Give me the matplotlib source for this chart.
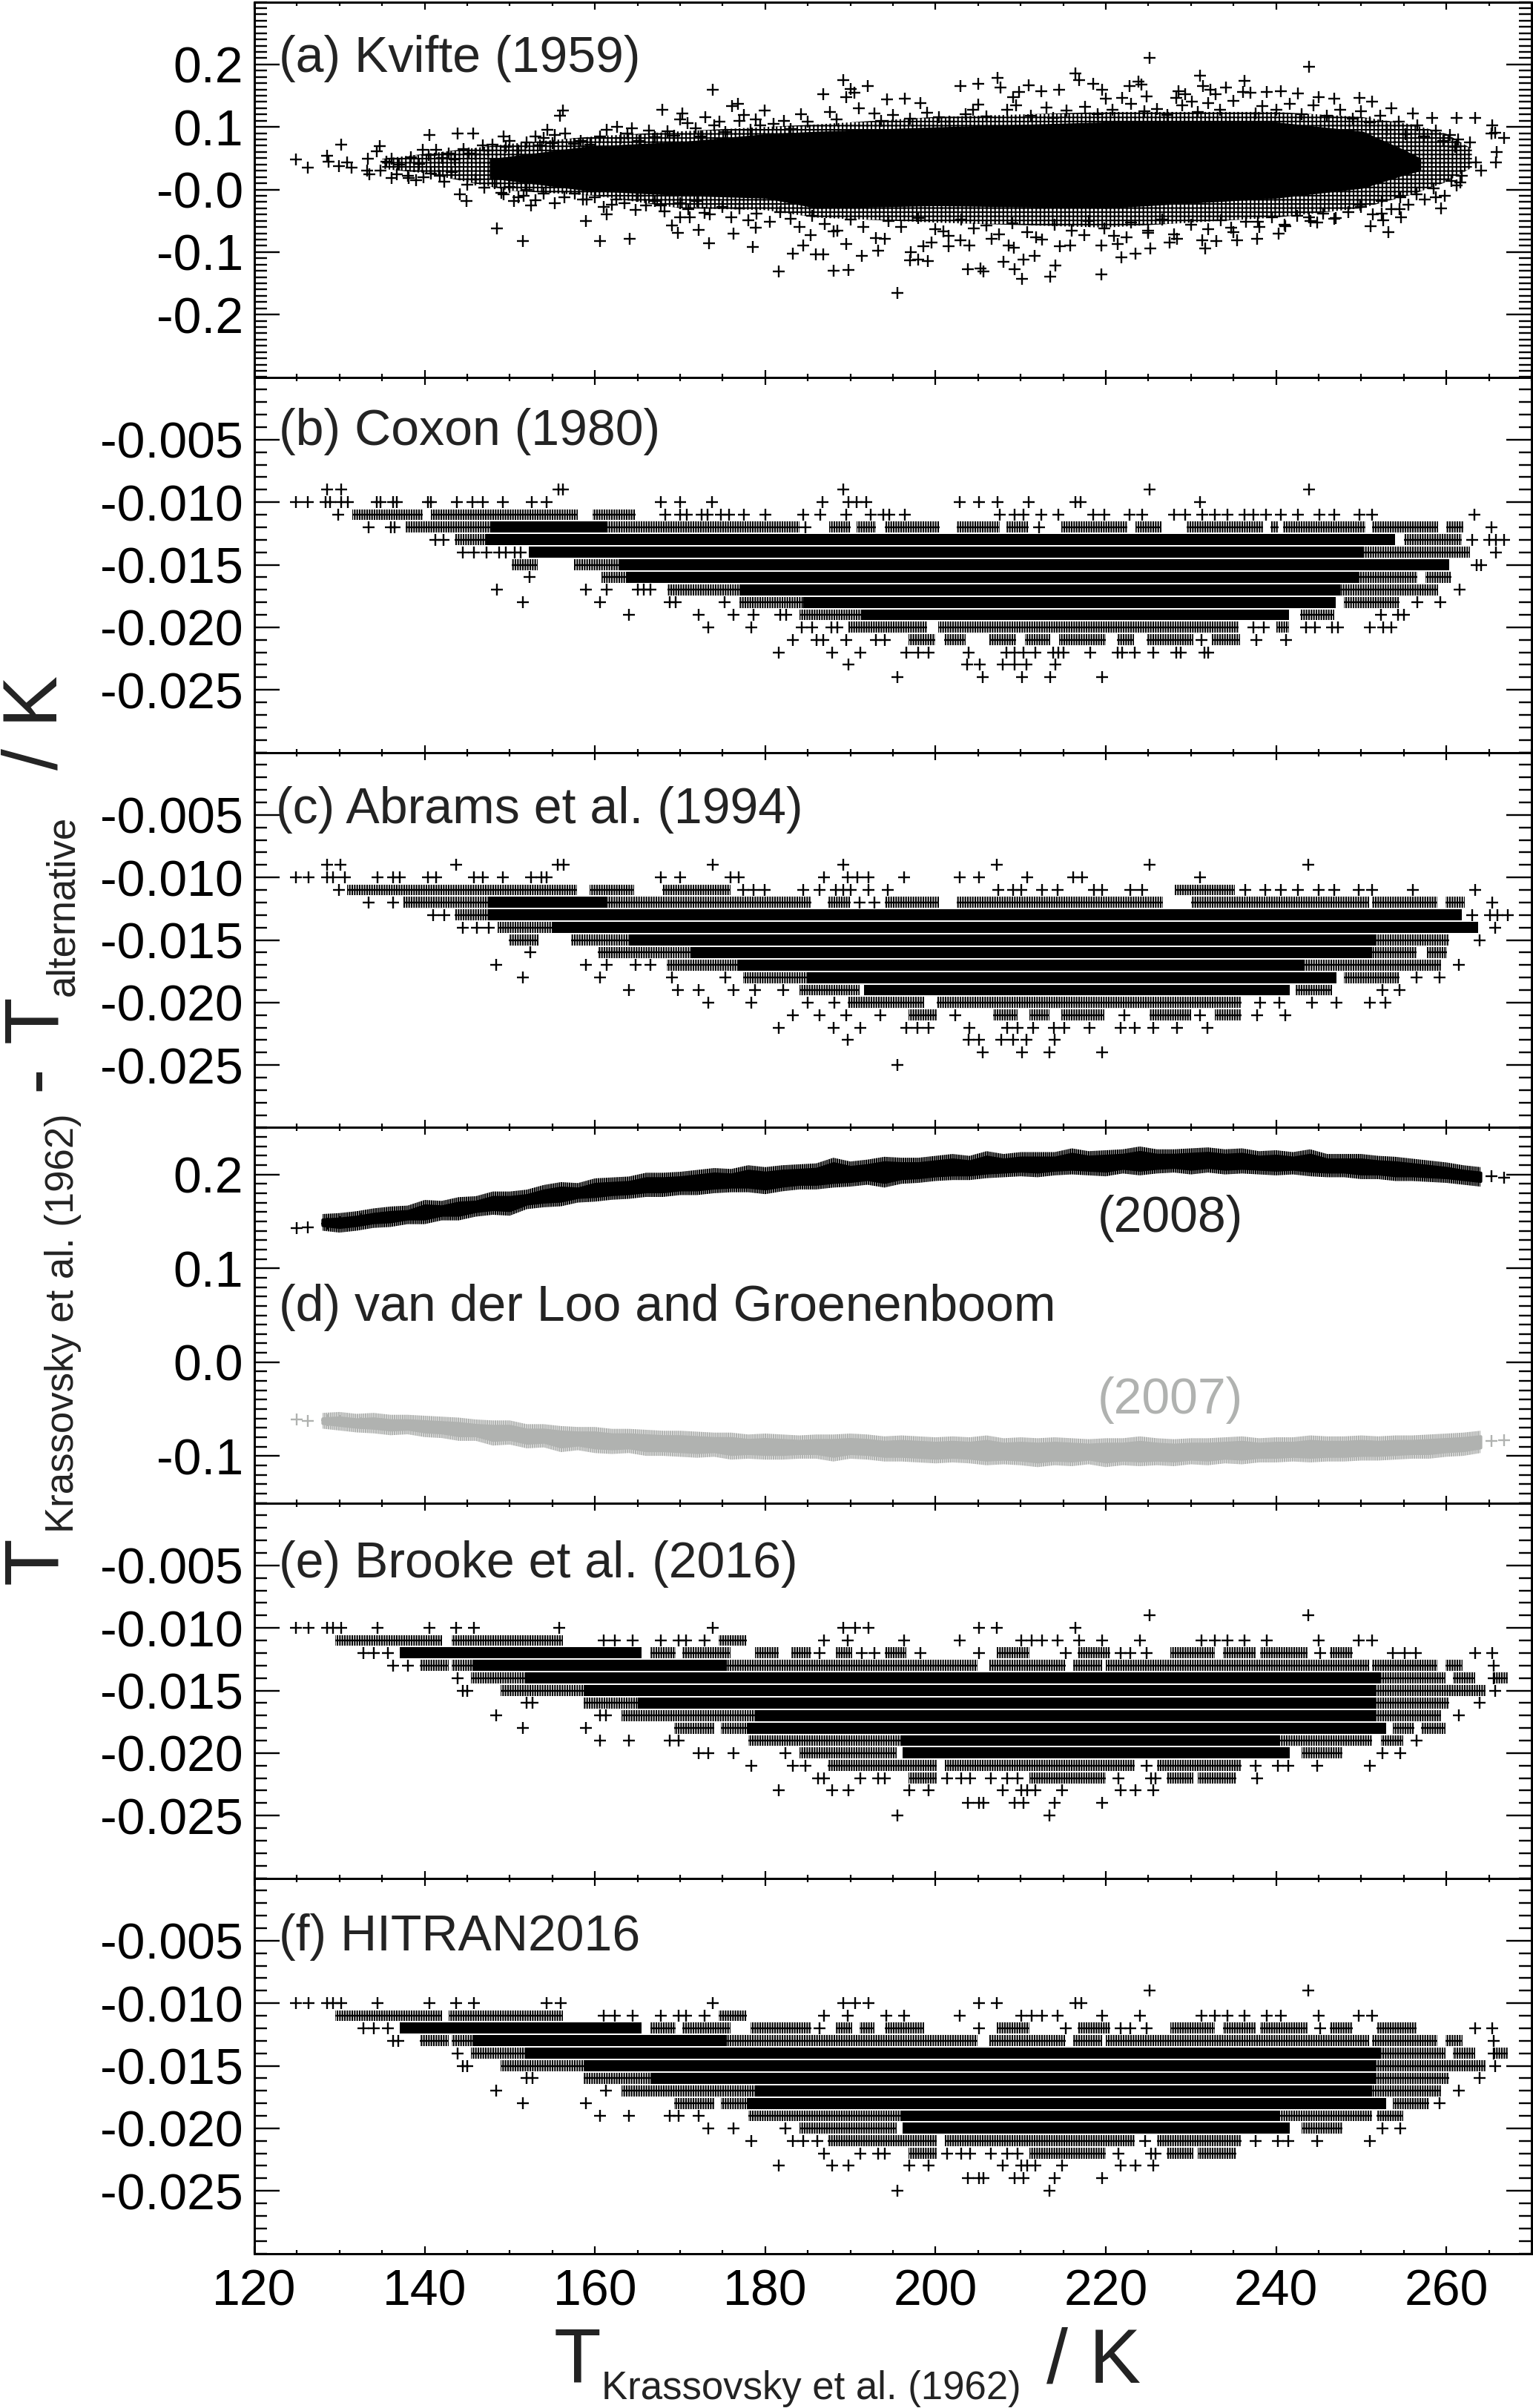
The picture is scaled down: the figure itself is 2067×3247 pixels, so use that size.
import matplotlib
matplotlib.use('Agg')
import matplotlib.pyplot as plt
from matplotlib.ticker import MultipleLocator, FixedLocator, FixedFormatter

plt.rcParams['font.family'] = ['Liberation Sans', 'DejaVu Sans']
plt.rcParams['hatch.linewidth'] = 1.5

W = 2067
H = 3247
DPI = 100

# panel (a): solid core of the cloud
a_core_T = [147.6, 159, 170.6, 180, 186, 200, 220, 240, 250.2, 254.8, 257]
a_core_hi = [0.049, 0.069, 0.077, 0.089, 0.093, 0.100, 0.108, 0.108, 0.093, 0.065, 0.050]
a_core_lo = [0.018, -0.002, -0.010, -0.014, -0.030, -0.026, -0.030, -0.014, 0.002, 0.022, 0.030]

# panel (a): where the markers crowd but do not yet merge
a_mid_up_T = [135, 140, 150, 160, 170, 180, 186, 200, 220, 240, 250, 256, 260, 263]
a_mid_up = [0.049, 0.057, 0.073, 0.085, 0.093, 0.100, 0.104, 0.116, 0.124, 0.124, 0.116, 0.104, 0.089, 0.065]
a_mid_dn = [0.033, 0.026, -0.002, -0.010, -0.030, -0.033, -0.045, -0.053, -0.061, -0.045, -0.030, -0.008, 0.012, 0.035]

# panel (a): outliers read one by one
a_T = [124.9, 126.3, 128.5, 128.7, 130.2, 129.9, 130.9, 131.4, 133.2, 133.5, 133.3, 134.7, 134.4, 134.8, 136.1, 136.7,
       136.1, 138.1, 139.8, 141.3, 140.6, 143.9, 145.7, 139.9, 141.8, 144.1, 144.9, 148.5, 151.5, 160.6, 164.1, 158.9,
       161.4, 149.3, 156.2, 155.9, 154.4, 155.3, 153, 150.5, 152.5, 151.6, 149.3, 167.9, 173.8, 176.1, 176.8, 177.5,
       178.9, 179.9, 170.3, 170, 170.9, 173, 174.6, 161.4, 162.6, 164.3, 169, 169.7, 172.2, 173.4, 176.3, 178.5, 178.9,
       170, 171.1, 172.9, 164.8, 167.7, 162, 159, 178,
       189.2, 190, 190.5, 192, 186.8, 189.5, 194.3, 196.4, 198.2, 202.9, 205, 207.3, 207.6, 205, 210.9, 209.8, 209.1,
       212.4, 214.5, 216.4, 216.9, 218.5, 219.6, 220, 221.9, 222.8, 223.8, 224.2, 224.8, 225.1, 228.3, 228.5, 229.3,
       230.1, 231.1, 231.4, 232.3, 232.9, 234.1, 236.3, 236.1, 237, 238.9, 240.6, 242.6, 243.9, 245, 246.8, 249.8,
       251.3, 253.5, 256.1, 258.3, 261.2, 263.4, 265.4, 265.7, 266.8, 265.3, 265.9, 265.8, 263.5, 264.1, 262.8, 261.6,
       259.4, 258.8,
       181.6, 188, 189.8, 195.5, 183.2, 185.9, 186.8, 191.3, 189.5, 184.5, 185.3, 188, 194, 193.3, 197, 198, 199.1,
       197.1, 198.6, 199.5, 201.5, 204, 203.8, 205.3, 205.6, 208, 209.3, 210.2, 213.5, 214.1, 210.3, 211.6, 208.6,
       209.2, 214.6, 219.5, 221.8, 223.5, 225.2, 219.5, 215.8, 221.4, 222.4, 227.5, 228.4, 231.7, 233, 235.4, 237.8,
       240.3, 241.1, 244.8, 246.8, 251.1, 252.6, 253.2, 254.7, 252.4, 254.5, 249.9, 243.9, 237.9, 234.7, 231.3, 225,
       217.5, 211.8, 206.6, 202.9, 200.9]
a_v = [0.048, 0.035, 0.054, 0.045, 0.072, 0.037, 0.043, 0.035, 0.030, 0.024, 0.049, 0.069, 0.061, 0.030, 0.018, 0.024,
       0.049, 0.018, 0.063, 0.063, 0.087, 0.089, 0.089, 0.019, 0.022, -0.008, -0.018, -0.062, -0.082, -0.082, -0.079,
       -0.050, -0.040, 0.085, 0.126, 0.118, 0.096, 0.087, 0.085, -0.018, -0.026, -0.010, -0.008, 0.128, 0.159, 0.133,
       0.137, 0.119, 0.112, 0.126, 0.121, 0.112, 0.106, 0.116, 0.108, 0.096, 0.100, 0.098, -0.057, -0.069, -0.065,
       -0.086, -0.070, -0.092, -0.061, -0.045, -0.045, -0.037, -0.033, -0.026, -0.024, -0.016, -0.049,
       0.175, 0.161, 0.155, 0.165, 0.152, 0.148, 0.144, 0.145, 0.138, 0.165, 0.169, 0.179, 0.163, 0.136, 0.167, 0.156,
       0.148, 0.157, 0.159, 0.186, 0.175, 0.169, 0.159, 0.145, 0.146, 0.165, 0.173, 0.168, 0.149, 0.211, 0.146, 0.157,
       0.152, 0.141, 0.182, 0.165, 0.159, 0.152, 0.163, 0.174, 0.156, 0.155, 0.156, 0.157, 0.153, 0.196, 0.148, 0.145,
       0.146, 0.141, 0.130, 0.122, 0.115, 0.114, 0.115, 0.102, 0.091, 0.083, 0.089, 0.060, 0.043, 0.043, 0.030, 0.075,
       0.011, -0.030, -0.012,
       -0.131, -0.130, -0.129, -0.165, -0.103, -0.104, -0.104, -0.106, -0.087, -0.089, -0.073, -0.067, -0.079, -0.098,
       -0.113, -0.112, -0.115, -0.100, -0.091, -0.085, -0.091, -0.089, -0.127, -0.126, -0.131, -0.116, -0.128, -0.143,
       -0.139, -0.122, -0.112, -0.106, -0.089, -0.093, -0.091, -0.136, -0.108, -0.102, -0.094, -0.089, -0.089, -0.087,
       -0.077, -0.085, -0.079, -0.094, -0.083, -0.081, -0.079, -0.071, -0.059, -0.053, -0.047, -0.059, -0.049, -0.068,
       -0.044, -0.039, -0.031, -0.024, -0.045, -0.051, -0.061, -0.081, -0.069, -0.073, -0.077, -0.079, -0.081, -0.067]

# panel (a): crowded fringe around the core, estimated
a_fringe_T = [135.5, 137, 138.4, 139.3, 140.5, 142, 142.8, 143.5, 144.6, 145.2, 146, 146.8, 147.4, 148, 149.5, 150, 151,
              152, 153.5, 154, 155, 156.5, 157.5, 158.3, 159.5, 160.6, 163, 163.8, 165.2, 166.3, 167, 168.5, 169.3,
              171.8, 172.4, 174, 175.3, 177, 178.3, 179.4, 181, 182.2, 183, 184.2, 185, 187.6, 188.4, 191, 192.8,
              193.6, 195, 197, 199, 200.4, 201.6, 203.5, 204.4, 206, 208.4, 209.5, 211.2, 213, 213.8, 215.4, 217.6,
              219, 220.8, 223, 224.5, 226, 227.2, 229, 230.8, 232, 233.4, 235, 237.6, 238.4, 240, 241.6, 243, 244.4,
              246, 247.5, 249, 250, 251, 252.2, 253, 254.4, 255.2, 256.6, 257.4, 258.8, 259.6, 260.4, 261, 261.4,
              138, 139, 140.7, 142.3, 143.2, 145, 146, 147, 148.2, 149, 150, 151, 152, 153, 154, 155.3, 156.4, 157.6,
              158.6, 160, 161, 162.5, 163.5, 165, 166, 167, 168.2, 170, 171, 172, 173.5, 175, 176, 177, 179, 180.5,
              181.8, 183, 184, 185.5, 187, 188.5, 190, 191.5, 193, 194.5, 196, 198, 200, 201.5, 203, 204.5, 206, 207.5,
              209, 210.8, 212.5, 214, 216, 218, 219.8, 221, 223, 225, 226.6, 228, 230, 232, 233.5, 235, 236.5, 238, 239.5,
              241, 242.5, 244, 245.5, 247, 248.5, 250, 251.4, 252.4, 253.5, 254.6, 255.5, 256.5, 257.5, 258.5, 259.8, 260.6,
              261.2, 261.8]
a_fringe_v = [0.045, 0.040, 0.052, 0.041, 0.055, 0.050, 0.058, 0.048, 0.065, 0.058, 0.056, 0.070, 0.062, 0.072, 0.068,
              0.078, 0.062, 0.075, 0.070, 0.082, 0.074, 0.090, 0.073, 0.078, 0.072, 0.085, 0.083, 0.090, 0.078, 0.094,
              0.084, 0.093, 0.086, 0.098, 0.085, 0.103, 0.092, 0.110, 0.095, 0.103, 0.105, 0.110, 0.097, 0.120, 0.108,
              0.124, 0.112, 0.130, 0.122, 0.110, 0.119, 0.113, 0.123, 0.116, 0.108, 0.120, 0.128, 0.117, 0.127, 0.135,
              0.118, 0.131, 0.114, 0.126, 0.132, 0.120, 0.127, 0.137, 0.125, 0.129, 0.119, 0.134, 0.124, 0.138, 0.127,
              0.142, 0.122, 0.133, 0.128, 0.137, 0.120, 0.134, 0.118, 0.127, 0.113, 0.125, 0.107, 0.118, 0.095, 0.108,
              0.088, 0.102, 0.085, 0.094, 0.078, 0.087, 0.068, 0.080,
              0.022, 0.015, 0.026, 0.012, 0.028, 0.008, 0.016, 0.003, 0.010, -0.005, 0.004, -0.012, 0.000, -0.017,
              -0.006, -0.022, -0.012, -0.006, -0.016, -0.012, -0.028, -0.016, -0.022, -0.010, -0.025, -0.018, -0.035,
              -0.022, -0.032, -0.018, -0.040, -0.028, -0.045, -0.030, -0.038, -0.052, -0.036, -0.047, -0.060, -0.042,
              -0.055, -0.066, -0.048, -0.060, -0.078, -0.050, -0.060, -0.046, -0.064, -0.074, -0.048, -0.062, -0.058,
              -0.072, -0.054, -0.068, -0.080, -0.056, -0.066, -0.050, -0.062, -0.074, -0.053, -0.066, -0.048, -0.072,
              -0.056, -0.063, -0.049, -0.068, -0.052, -0.060, -0.044, -0.056, -0.042, -0.050, -0.038, -0.046, -0.036,
              -0.028, -0.040, -0.018, -0.032, -0.012, -0.024, -0.008, -0.016, 0.002, -0.010, 0.014, 0.006, 0.022]

# panel (d): band edges, 2008 in black, 2007 in grey
d_T = [128, 130, 132, 134, 136, 138, 140, 142, 144, 146, 148, 150, 152, 154, 156, 158, 160, 162, 164, 166, 168, 170,
       172, 174, 176, 178, 180, 182, 184, 186, 188, 190, 192, 194, 196, 198, 200, 202, 204, 206, 208, 210, 212, 214,
       216, 218, 220, 222, 224, 226, 228, 230, 232, 234, 236, 238, 240, 242, 244, 246, 248, 250, 252, 254, 256, 258,
       260, 262, 264]
d_black_hi = [0.152, 0.153, 0.155, 0.158, 0.160, 0.161, 0.167, 0.166, 0.170, 0.171, 0.176, 0.176, 0.178, 0.183, 0.186,
              0.185, 0.190, 0.191, 0.192, 0.196, 0.196, 0.197, 0.199, 0.201, 0.200, 0.204, 0.202, 0.204, 0.205, 0.206,
              0.212, 0.208, 0.210, 0.213, 0.212, 0.212, 0.214, 0.216, 0.214, 0.219, 0.216, 0.218, 0.218, 0.218, 0.222,
              0.219, 0.220, 0.221, 0.224, 0.221, 0.221, 0.222, 0.223, 0.221, 0.222, 0.219, 0.220, 0.218, 0.221, 0.216,
              0.216, 0.216, 0.214, 0.213, 0.211, 0.209, 0.207, 0.204, 0.202]
d_black_lo = [0.146, 0.144, 0.146, 0.149, 0.150, 0.153, 0.153, 0.157, 0.157, 0.161, 0.163, 0.162, 0.169, 0.171, 0.172,
              0.176, 0.177, 0.179, 0.180, 0.182, 0.182, 0.184, 0.184, 0.186, 0.187, 0.187, 0.185, 0.188, 0.190, 0.190,
              0.192, 0.193, 0.195, 0.192, 0.196, 0.197, 0.199, 0.200, 0.200, 0.202, 0.203, 0.204, 0.203, 0.205, 0.206,
              0.205, 0.204, 0.207, 0.205, 0.207, 0.208, 0.206, 0.208, 0.206, 0.207, 0.206, 0.205, 0.206, 0.204, 0.203,
              0.203, 0.201, 0.201, 0.199, 0.199, 0.198, 0.197, 0.195, 0.193]
d_grey_hi = [-0.060, -0.059, -0.061, -0.060, -0.062, -0.062, -0.063, -0.064, -0.065, -0.067, -0.068, -0.068, -0.072,
             -0.072, -0.074, -0.075, -0.075, -0.077, -0.077, -0.078, -0.079, -0.079, -0.080, -0.081, -0.081, -0.083,
             -0.082, -0.083, -0.084, -0.083, -0.083, -0.082, -0.083, -0.085, -0.084, -0.085, -0.086, -0.085, -0.086,
             -0.084, -0.087, -0.086, -0.087, -0.086, -0.087, -0.088, -0.087, -0.087, -0.085, -0.087, -0.088, -0.087,
             -0.087, -0.086, -0.085, -0.087, -0.086, -0.086, -0.084, -0.085, -0.085, -0.084, -0.085, -0.084, -0.084,
             -0.083, -0.082, -0.081, -0.079]
d_grey_lo = [-0.065, -0.067, -0.069, -0.070, -0.072, -0.071, -0.074, -0.075, -0.078, -0.078, -0.083, -0.082, -0.086,
             -0.085, -0.090, -0.088, -0.091, -0.092, -0.091, -0.094, -0.094, -0.095, -0.096, -0.095, -0.098, -0.097,
             -0.098, -0.098, -0.097, -0.097, -0.100, -0.097, -0.098, -0.100, -0.100, -0.101, -0.102, -0.101, -0.102,
             -0.104, -0.103, -0.104, -0.106, -0.104, -0.105, -0.103, -0.106, -0.104, -0.105, -0.104, -0.105, -0.103,
             -0.104, -0.102, -0.103, -0.101, -0.101, -0.100, -0.101, -0.100, -0.100, -0.099, -0.099, -0.098, -0.097,
             -0.097, -0.095, -0.094, -0.091]
d_black_T_ends = [125, 126.3, 128.5, 130, 132.5, 135, 265.3, 266.8]
d_black_ends = [0.143, 0.144, 0.148, 0.149, 0.152, 0.154, 0.198, 0.197]
d_grey_T_ends = [125, 126.3, 128.5, 130, 132.5, 135, 265.3, 266.8]
d_grey_ends = [-0.061, -0.0625, -0.062, -0.0625, -0.065, -0.066, -0.084, -0.083]

# panels (b), (c), (e), (f): the values sit on 0.001 K levels
# solid = fully black runs, dense / semi = runs of closely packed markers, pts = single markers
b_solid = [(-0.012, 147.75, 161.5), (-0.013, 147.25, 177.5), (-0.014, 155.25, 250.3), (-0.015, 162.75, 251.55),
           (-0.016, 171, 249.8), (-0.017, 177, 243.3), (-0.018, 184.5, 247)]
b_dense = [(-0.013, 177.5, 254), (-0.016, 163.75, 171), (-0.017, 243.3, 247.5), (-0.019, 191.25, 241.55),
           (-0.014, 152.25, 155.25), (-0.015, 251.55, 260.3)]
b_semi = [(-0.011, 131.5, 139.75), (-0.011, 140.75, 158), (-0.011, 159.75, 164.75),
          (-0.012, 137.75, 147.75), (-0.012, 161.5, 184), (-0.012, 187.5, 190), (-0.012, 190.75, 193), (-0.012, 194, 200.5),
          (-0.012, 202.5, 207.5), (-0.012, 208.3, 210.9), (-0.012, 214.8, 222.5), (-0.012, 223.5, 226.5),
          (-0.012, 229.5, 238.5), (-0.012, 239.3, 240.3), (-0.012, 240.8, 250.5), (-0.012, 251.3, 259), (-0.012, 260, 262),
          (-0.013, 143.5, 147.25), (-0.013, 255, 261.8), (-0.014, 250.3, 262.8), (-0.015, 150.25, 153.25),
          (-0.015, 157.5, 162.75), (-0.016, 160.75, 163.75), (-0.016, 249.8, 256.55), (-0.016, 257.55, 260.55),
          (-0.017, 168.5, 177), (-0.017, 247.5, 259), (-0.018, 177, 184.5), (-0.018, 248, 254.5),
          (-0.019, 184, 191.25), (-0.019, 242.8, 246.8), (-0.020, 189.75, 199), (-0.020, 200.3, 235.55),
          (-0.020, 240, 241.55), (-0.021, 196.8, 200), (-0.021, 201, 203.5), (-0.021, 206.3, 209.5), (-0.021, 210.5, 213.5),
          (-0.021, 214.5, 220), (-0.021, 221.3, 223.3), (-0.021, 224.8, 230.3), (-0.021, 232.5, 235.8)]
b_pts = {-0.009: [128.55, 130.2, 155.75, 156.25, 189.15, 225.15, 243.9],
         -0.010: [124.85, 126.25, 128.4, 128.85, 130.15, 131, 134.35, 134.85, 136.25, 136.75, 140.35, 140.75, 143.75, 145.65,
                  146.85, 149.15, 152.6, 154.35, 167.75, 170, 173.75, 186.75, 189.75, 190.75, 191.9, 202.8, 205.1,
                  207.3, 210.9, 216.4, 217.05, 231.05],
         -0.011: [129.85, 168.25, 170, 170.75, 172.5, 173.25, 174.75, 175.75, 177.5, 180, 184.5, 186.5, 189.5, 192.4, 193.9,
                  194.55, 196.4, 207.55, 209.3, 210.3, 212.45, 214.45, 218.55, 219.8, 222.8, 224.3, 228.05, 229.3, 231.3,
                  232.8, 234.3, 236.3, 237.3, 238.8, 240.55, 242.55, 245.05, 246.8, 249.8, 251.3, 263.3],
         -0.012: [133.4, 136, 136.5, 184.75, 212.2, 265.3],
         -0.013: [141.25, 142.25, 263, 265, 265.8, 266.8],
         -0.014: [144.5, 145.75, 147.25, 148.75, 149.5, 150.6, 151.25, 265.8],
         -0.015: [263.55, 264.05],
         -0.016: [152.35],
         -0.017: [148.5, 158.9, 161.4, 165, 165.75, 166.5, 261.55],
         -0.018: [151.5, 160.6, 168.75, 169.5, 175.25, 256.55, 259.3],
         -0.019: [164, 172.15, 176.25, 178.6, 181.75, 182.5, 252.3, 254.3, 255.05],
         -0.020: [173.35, 178.4, 184.25, 185.5, 187.75, 188.5, 237.3, 238.55, 243.55, 244.55, 246.55, 247.3, 251.05,
                  252.55, 253.55],
         -0.021: [183.25, 186, 186.85, 189.5, 193, 194, 231.2, 237.7, 241.15],
         -0.022: [181.6, 187.9, 191.15, 196.55, 198, 199.2, 203.9, 208.3, 209.3, 210.3, 211.7, 213.8, 214.45, 215.05, 218.15,
                  221.4, 221.9, 223.4, 225.55, 228.3, 228.8, 231.55, 232.05],
         -0.023: [189.75, 203.7, 205.2, 207.9, 209.3, 210.7, 214.05],
         -0.024: [195.55, 205.55, 210.2, 213.45, 219.6]}

c_solid = [(-0.012, 147.5, 161.4), (-0.013, 147.5, 177.8), (-0.014, 155.1, 250.4), (-0.015, 164.1, 251.8),
           (-0.016, 171.2, 251.3), (-0.017, 190.2, 243.3), (-0.018, 215.3, 222.9)]
c_dense = [(-0.013, 177.8, 261.8), (-0.017, 176.9, 190.2), (-0.018, 185, 215.3), (-0.018, 222.9, 247.1),
           (-0.019, 191.6, 241.6), (-0.014, 250.4, 263.7)]
c_semi = [(-0.011, 130.9, 157.9), (-0.011, 159.4, 164.6), (-0.011, 167.9, 175.9), (-0.011, 228.1, 235.2),
          (-0.012, 137.5, 147.5), (-0.012, 161.4, 185.4), (-0.012, 187.3, 190), (-0.012, 194, 200.4), (-0.012, 202.5, 226.7),
          (-0.012, 230, 250.9), (-0.012, 251.3, 258.9), (-0.012, 259.9, 262.2), (-0.013, 143.5, 147.5),
          (-0.014, 148.6, 155.1), (-0.015, 149.9, 153.4), (-0.015, 157.2, 164.1), (-0.015, 251.8, 260.3),
          (-0.016, 160.3, 171.2), (-0.016, 251.3, 256.5), (-0.016, 257.7, 260.1), (-0.017, 168.4, 176.9),
          (-0.017, 243.3, 259.4), (-0.018, 177.4, 185), (-0.018, 248, 254.5), (-0.019, 184, 191.1), (-0.019, 242.3, 246.6),
          (-0.020, 189.7, 198.7), (-0.020, 200.1, 235.9), (-0.021, 196.8, 200.1), (-0.021, 206.8, 209.6), (-0.021, 211, 213.4),
          (-0.021, 214.8, 219.8), (-0.021, 225.1, 230), (-0.021, 232.8, 235.9)]
c_pts = {-0.009: [128.5, 130.1, 143.7, 155.6, 156.3, 173.8, 189.2, 207.2, 225.1, 243.8],
         -0.010: [124.9, 126.4, 128.5, 129.2, 130.6, 134.5, 136.3, 137.1, 140.4, 141.3, 145.8, 146.8, 149.2, 152.5, 153.7,
                  154.3, 167.7, 170, 175.9, 176.9, 186.9, 189.7, 190.8, 192.1, 196.3, 202.8, 205.1, 210.8, 216.2, 217.2, 231.1],
         -0.011: [129.9, 177.4, 178.6, 179.9, 184.5, 186.4, 188.3, 189.2, 190, 192.1, 194.4, 207.4, 209.1, 210.1, 212.5, 214.3,
                  218.6, 219.6, 222.9, 224.3, 236.4, 238.7, 240.6, 242.6, 245, 246.8, 249.7, 251.3, 256.1, 263.4],
         -0.012: [133.4, 136.3, 191.1, 192.8, 265.4],
         -0.013: [141, 142.3, 263, 265.1, 266, 267.2],
         -0.014: [144.5, 146.1, 147.5, 265.7],
         -0.015: [263.9],
         -0.016: [152.4],
         -0.017: [148.4, 158.9, 161.4, 164.8, 166.5, 261.5],
         -0.018: [151.5, 160.6, 169, 175.3, 256.5, 259.2],
         -0.019: [164, 169.7, 172.2, 176.3, 178.8, 182.1, 252.5, 254.5],
         -0.020: [173.3, 178.4, 185, 188.1, 238.1, 240.4, 244.2, 247.1, 251, 252.8],
         -0.021: [183.2, 186.4, 189.5, 193.5, 202.3, 222.2, 231.1, 237.8, 241.1],
         -0.022: [181.6, 188, 191.2, 196.6, 197.9, 199.2, 204, 208.4, 209.6, 211.5, 213.9, 215.1, 218.1, 221.7, 223.4,
                  225.6, 228.4, 231.9],
         -0.023: [189.7, 203.9, 205.1, 207.7, 209.1, 210.7, 214],
         -0.024: [205.5, 210.2, 213.4, 219.6],
         -0.025: [195.5]}

e_solid = [(-0.013, 145.6, 175.5), (-0.014, 151.8, 191.1), (-0.015, 158.7, 251.8), (-0.016, 165, 251.6),
           (-0.017, 186.9, 251.6), (-0.018, 198.2, 241.4)]
e_dense = [(-0.014, 191.1, 252.3), (-0.017, 178.8, 186.9), (-0.018, 177.8, 198.2), (-0.018, 241.4, 252.9),
           (-0.019, 195.9, 240.4), (-0.020, 196.1, 241.6), (-0.012, 137.1, 165.5)]
e_semi = [(-0.011, 129.5, 142), (-0.011, 143.2, 156.2), (-0.011, 174.5, 177.8), (-0.012, 166.5, 169.5), (-0.012, 170.3, 175.9),
          (-0.012, 178.8, 181.6), (-0.012, 183.1, 185.4), (-0.012, 188.3, 190.2), (-0.012, 194, 196.6), (-0.012, 207.2, 211),
          (-0.012, 216.7, 220.5), (-0.012, 227.6, 232.8), (-0.012, 233.8, 237.6), (-0.012, 238.1, 243.7), (-0.012, 246.3, 249),
          (-0.013, 139.4, 142.8), (-0.013, 143.2, 145.6), (-0.013, 175.5, 204.9), (-0.013, 206.3, 215.3), (-0.013, 216.2, 219.6),
          (-0.013, 220, 250.9), (-0.013, 251.3, 258.9), (-0.013, 259.9, 261.9), (-0.014, 145.4, 151.8), (-0.014, 252.3, 259.9),
          (-0.014, 260.8, 263.4), (-0.014, 265.6, 267.2), (-0.015, 148.9, 158.7), (-0.015, 251.8, 264.6), (-0.016, 158.7, 165),
          (-0.016, 251.6, 260.3), (-0.017, 163.1, 178.8), (-0.017, 251.6, 259.4), (-0.018, 169.3, 174), (-0.018, 174.8, 177.8),
          (-0.018, 253.7, 256.2), (-0.018, 257, 259.9), (-0.019, 178, 195.9), (-0.019, 240.4, 251.3), (-0.019, 252.3, 254.9),
          (-0.020, 184, 195.4), (-0.020, 243, 247.8), (-0.021, 187.3, 200.1), (-0.021, 201.1, 223.4), (-0.021, 226, 235.9),
          (-0.022, 196.8, 200.1), (-0.022, 211, 220), (-0.022, 227.1, 230.3), (-0.022, 230.8, 235.3)]
e_pts = {-0.009: [225.1, 243.8],
         -0.010: [124.9, 126.4, 128.5, 129.2, 130.2, 134.5, 140.6, 143.7, 145.8, 155.8, 173.8, 189.2, 190.6, 192.1, 205.1,
                  207.2, 216.4],
         -0.011: [161, 162.3, 164.4, 167.7, 169.8, 170.7, 172.9, 186.9, 189.7, 196.3, 202.8, 210.1, 211.3, 212.5, 214.3, 216.9,
                  219.6, 224, 231.2, 232.8, 234.3, 236.3, 238.9, 245, 249.7, 251.3],
         -0.012: [132.8, 134, 135.7, 186.4, 191.3, 192.8, 198.2, 205.1, 215.3, 221.7, 222.9, 224.8, 245.2, 253.7, 255.1, 256.4,
                  263.4, 265.4],
         -0.013: [136.3, 138, 265.6],
         -0.014: [143.9, 265.6],
         -0.015: [144.5, 145, 265.7],
         -0.016: [152, 152.7, 263.9],
         -0.017: [148.4, 160.6, 161.3, 261.5],
         -0.018: [151.5, 158.9],
         -0.019: [160.6, 164, 168.8, 169.8, 256.5],
         -0.020: [172.2, 173.3, 176.3, 182.4, 252.5, 254.6],
         -0.021: [178.4, 183.2, 184.7, 224.8, 237.6, 240.2, 241.4, 244.8, 251],
         -0.022: [186.2, 186.9, 191.2, 193.3, 194, 201.4, 203, 204.1, 206.5, 208.4, 209.6, 221.5, 225.3, 225.8, 237.8],
         -0.023: [181.6, 187.9, 189.8, 196.9, 199.2, 207.9, 210.1, 210.8, 211.7, 214.9, 221.7, 223.5, 225.6],
         -0.024: [203.8, 205.1, 205.6, 209.3, 210.3, 214, 219.6],
         -0.025: [195.5, 213.4]}

f_solid = [(-0.013, 145.6, 175.5), (-0.014, 151.8, 193.5), (-0.015, 158.7, 251.8), (-0.016, 166.5, 251.6),
           (-0.017, 186.9, 251.3), (-0.018, 198.2, 236.2)]
f_dense = [(-0.014, 193.5, 252.3), (-0.017, 178.8, 186.9), (-0.018, 177.8, 198.2), (-0.018, 236.2, 252.9),
           (-0.019, 195.9, 240.4), (-0.020, 196.1, 241.6), (-0.012, 137.1, 165.5)]
f_semi = [(-0.011, 129.5, 142), (-0.011, 142.8, 156.2), (-0.011, 174.5, 177.8), (-0.012, 166.5, 169.5), (-0.012, 170.3, 175.9),
          (-0.012, 178.3, 185.4), (-0.012, 188.3, 190.2), (-0.012, 191.1, 192.8), (-0.012, 194, 198.7), (-0.012, 207.2, 211),
          (-0.012, 216.7, 220.5), (-0.012, 227.6, 232.8), (-0.012, 233.8, 237.6), (-0.012, 238.1, 243.7), (-0.012, 246.3, 249),
          (-0.012, 251.8, 256.5), (-0.013, 139.4, 142.8), (-0.013, 143.2, 145.6), (-0.013, 175.5, 204.9), (-0.013, 206.3, 215.3),
          (-0.013, 216.2, 219.6), (-0.013, 220, 250.9), (-0.013, 251.3, 258.9), (-0.013, 259.9, 261.9), (-0.014, 145.4, 151.8),
          (-0.014, 252.3, 259.9), (-0.014, 260.8, 263.4), (-0.014, 265.6, 267.2), (-0.015, 148.9, 158.7), (-0.015, 251.8, 264.6),
          (-0.016, 158.7, 166.5), (-0.016, 251.6, 260.3), (-0.017, 163.1, 178.8), (-0.017, 251.3, 259.4), (-0.018, 169.3, 174),
          (-0.018, 174.8, 177.8), (-0.018, 253.7, 258), (-0.019, 178, 195.9), (-0.019, 240.4, 251.3), (-0.019, 251.8, 254.9),
          (-0.020, 184, 195.4), (-0.020, 243, 247.8), (-0.021, 187.3, 200.1), (-0.021, 201.1, 223.4), (-0.021, 226, 235.9),
          (-0.022, 196.8, 200.1), (-0.022, 211, 220), (-0.022, 227.1, 230.3), (-0.022, 230.8, 235.3)]
f_pts = {-0.009: [225.1, 243.8],
         -0.010: [124.9, 126.4, 128.5, 129.2, 130.2, 134.5, 140.6, 143.7, 145.8, 154.3, 156, 173.8, 189.2, 190.6, 192.1, 205.1,
                  207.2, 216.4, 217.1],
         -0.011: [161, 162.3, 164.4, 167.7, 169.8, 170.7, 172.9, 186.9, 189.7, 194.2, 196.3, 202.8, 210.1, 211.3, 212.5, 214.3,
                  219.6, 224, 231.2, 232.8, 234.3, 236.3, 238.9, 240.6, 245, 249.7, 251.3],
         -0.012: [132.8, 134, 135.7, 186.4, 205.1, 215.3, 221.7, 222.9, 224.8, 245.2, 263.4, 265.4],
         -0.013: [136.3, 136.9, 265.6],
         -0.014: [143.9, 265.6],
         -0.015: [144.5, 145, 265.7],
         -0.016: [152, 152.7, 263.9],
         -0.017: [148.4, 161.3, 261.5],
         -0.018: [151.5, 158.9, 259.2],
         -0.019: [160.6, 164, 168.8, 169.8, 172.2],
         -0.020: [173.3, 176.3, 182.4, 252.5, 254.6],
         -0.021: [178.4, 183.2, 184.5, 186.1, 224.6, 237.6, 240.2, 241.4, 244.8, 251],
         -0.022: [186.9, 191.2, 193.3, 194, 201.4, 203, 204.1, 206.5, 208.4, 209.6, 221.5, 225.3, 225.8],
         -0.023: [181.6, 187.9, 189.8, 196.9, 199.2, 207.9, 210.1, 210.8, 211.7, 214.9, 221.7, 223.5, 225.6],
         -0.024: [203.8, 205.1, 205.6, 209.3, 210.3, 214, 219.6],
         -0.025: [195.5, 213.4]}

x_ticks = [120, 140, 160, 180, 200, 220, 240, 260]
a_ticks = [-0.2, -0.1, 0.0, 0.1, 0.2]
a_labels = ['-0.2', '-0.1', '-0.0', '0.1', '0.2']
small_ticks = [-0.025, -0.020, -0.015, -0.010, -0.005]
small_labels = ['-0.025', '-0.020', '-0.015', '-0.010', '-0.005']
d_ticks = [-0.1, 0.0, 0.1, 0.2]
d_labels = ['-0.1', '0.0', '0.1', '0.2']

GREY = '#b0b2b0'
INK = '#232323'
MS = 11.5
MEW = 1.7
BAND = 0.00088
ARM = 0.0059


def px(n):
    return n * 72 / DPI


def crosses(ax, x, y, color='k'):
    ax.plot(x, y, '+', color=color, ms=MS, mew=MEW, ls='none')


def runs(ax, rows, hatch=None):
    if not rows:
        return
    lv, start, end = zip(*rows)
    widths = [e - s for s, e in zip(start, end)]
    if hatch is None:
        ax.barh(lv, widths, left=start, height=BAND, color='k', lw=0)
    else:
        ax.barh(lv, widths, left=start, height=BAND, facecolor='none', edgecolor='k', hatch=hatch, lw=0)
        ax.hlines(lv, start, end, color='k', lw=px(2.4))


def levels(ax, solid, dense, semi, pts):
    runs(ax, semi, '|||||')
    runs(ax, dense, '||||||||||')
    runs(ax, solid)
    for lv, xs in pts.items():
        crosses(ax, xs, [lv] * len(xs))


def thick_band(ax, lo, hi, color):
    up = [v + ARM for v in hi]
    dn = [v - ARM for v in lo]
    ax.fill_between(d_T, dn, up, facecolor='none', edgecolor=color, hatch='||||||', lw=0)
    ax.fill_between(d_T, lo, hi, color=color, lw=px(4))


def dress(ax, ylim, ticks, labels, minor, show_x):
    ax.set_xlim(120, 270)
    ax.set_ylim(*ylim)
    ax.xaxis.set_major_locator(FixedLocator(x_ticks))
    ax.xaxis.set_minor_locator(MultipleLocator(5))
    ax.yaxis.set_major_locator(FixedLocator(ticks))
    ax.yaxis.set_major_formatter(FixedFormatter(labels))
    ax.yaxis.set_minor_locator(MultipleLocator(minor))
    ax.tick_params(axis='x', which='major', direction='in', top=True, bottom=True, length=px(10), width=px(2.2),
                   labelsize=49, pad=px(20), labelbottom=show_x)
    ax.tick_params(axis='x', which='minor', direction='in', top=True, bottom=True, length=px(5), width=px(2.2))
    ax.tick_params(axis='y', which='major', direction='in', left=True, right=True, length=px(34), width=px(2.4),
                   labelsize=49, pad=px(15))
    ax.tick_params(axis='y', which='minor', direction='in', left=True, right=True, length=px(17), width=px(2.4))
    for s in ax.spines.values():
        s.set_linewidth(px(3))


def put(fig, x, y, s, size=49, color=INK, rot=0):
    fig.text(x / W, 1 - y / H, s, fontsize=size, color=color, rotation=rot, rotation_mode='anchor',
             ha='left', va='baseline')


fig = plt.figure(figsize=(W / DPI, H / DPI), dpi=DPI)
axes = []
for i in range(6):
    top = 2.5 + 506 * i
    axes.append(fig.add_axes([343 / W, 1 - (top + 506) / H, (2065 - 343) / W, 506 / H]))

# (a)
axes[0].fill_between(a_mid_up_T, a_mid_dn, a_mid_up, facecolor='none', edgecolor='k', hatch='+++', lw=0)
axes[0].fill_between(a_core_T, a_core_lo, a_core_hi, color='k', lw=0)
crosses(axes[0], a_fringe_T, a_fringe_v)
crosses(axes[0], a_T, a_v)
dress(axes[0], (-0.3, 0.3), a_ticks, a_labels, 0.01, False)

# (b), (c), (e), (f)
levels(axes[1], b_solid, b_dense, b_semi, b_pts)
levels(axes[2], c_solid, c_dense, c_semi, c_pts)
levels(axes[4], e_solid, e_dense, e_semi, e_pts)
levels(axes[5], f_solid, f_dense, f_semi, f_pts)
for k in (1, 2, 4, 5):
    dress(axes[k], (-0.03, 0.0), small_ticks, small_labels, 0.001, k == 5)

# (d)
thick_band(axes[3], d_black_lo, d_black_hi, 'k')
crosses(axes[3], d_black_T_ends, d_black_ends)
thick_band(axes[3], d_grey_lo, d_grey_hi, GREY)
crosses(axes[3], d_grey_T_ends, d_grey_ends, GREY)
dress(axes[3], (-0.15, 0.25), d_ticks, d_labels, 0.01, False)

# panel captions
put(fig, 376, 97, '(a) Kvifte (1959)')
put(fig, 376, 600, '(b) Coxon (1980)')
put(fig, 372, 1110, '(c) Abrams et al. (1994)')
put(fig, 376, 1781, '(d) van der Loo and Groenenboom')
put(fig, 1480, 1661, '(2008)')
put(fig, 1480, 1906, '(2007)', color=GREY)
put(fig, 376, 2127, '(e) Brooke et al. (2016)')
put(fig, 376, 2630, '(f) HITRAN2016')

# axis titles, written piece by piece for the subscripts
put(fig, 747, 3213, 'T', 75)
put(fig, 811, 3235, 'Krassovsky et al. (1962)', 38)
put(fig, 1411, 3213, '/ K', 75)

put(fig, 77, 2136, 'T', 75, rot=90)
put(fig, 99, 2067, 'Krassovsky et al. (1962)', 38, rot=90)
put(fig, 77, 1471, '-', 75, rot=90)
put(fig, 77, 1406, 'T', 75, rot=90)
put(fig, 99, 1343, 'alternative', 38, rot=90)
put(fig, 77, 1038, '/ K', 75, rot=90)

fig.savefig('out.png', dpi=DPI)
